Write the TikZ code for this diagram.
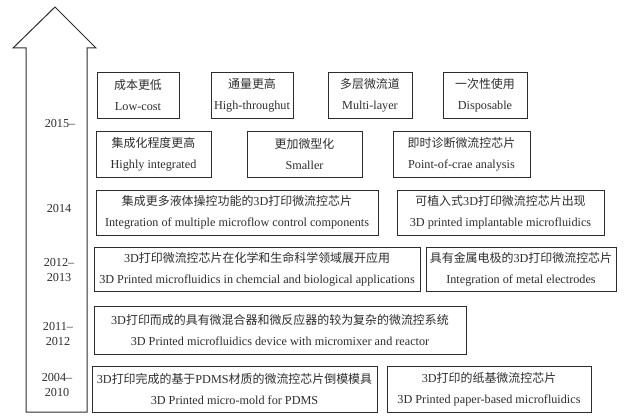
\documentclass[tikz,border=0pt]{standalone}
\usepackage{fontspec}
\setmainfont{Liberation Serif}
\newfontfamily\cjk{Noto Sans CJK SC}[Scale=0.98]
\newcommand{\zh}[1]{{\cjk #1}}
\usepackage{xcolor}
\usepackage{tikz}
\definecolor{inkgray}{RGB}{45,45,45}

\begin{document}
\begin{tikzpicture}[x=1pt, y=-1pt,
        stage/.style={draw=inkgray, line width=1pt, inner sep=0pt, align=center, text=inkgray, font=\fontsize{12.2}{21}\selectfont},
        year/.style={align=center, text=inkgray, font=\fontsize{12.2}{15}\selectfont}]
    \useasboundingbox (0,0) rectangle (627,420);
    % timeline arrow
    \draw[inkgray, line width=1pt, line join=miter] (26,412) -- (26,48) -- (13,48) -- (55,7) -- (96,48) -- (87,48) -- (87,412) -- cycle;

    % 2015-
    \node[year] (y2015) at (60,124) {2015–};
    \node[stage, minimum width=82pt, minimum height=45pt] (lowcost) at (138,95.5) {\zh{成本更低}\\Low-cost};
    \node[stage, minimum width=82pt, minimum height=45pt] (throughput) at (252,95.5) {\zh{通量更高}\\High-throughut};
    \node[stage, minimum width=84pt, minimum height=45pt] (multilayer) at (370,95.5) {\zh{多层微流道}\\Multi-layer};
    \node[stage, minimum width=84pt, minimum height=45pt] (disposable) at (485,95.5) {\zh{一次性使用}\\Disposable};
    \node[stage, minimum width=115pt, minimum height=46pt] (integrated) at (153.5,154) {\zh{集成化程度更高}\\Highly integrated};
    \node[stage, minimum width=115pt, minimum height=46pt] (smaller) at (304.5,154) {\zh{更加微型化}\\Smaller};
    \node[stage, minimum width=137pt, minimum height=46pt] (poc) at (461.5,154) {\zh{即时诊断微流控芯片}\\Point-of-crae analysis};

    % 2014
    \node[year] (y2014) at (59,209) {2014};
    \node[stage, minimum width=282pt, minimum height=45pt] (multiflow) at (237,212.5) {\zh{集成更多液体操控功能的}3D\zh{打印微流控芯片}\\Integration of multiple microflow control components};
    \node[stage, minimum width=207pt, minimum height=45pt] (implant) at (500.5,212.5) {\zh{可植入式}3D\zh{打印微流控芯片出现}\\3D printed implantable microfluidics};

    % 2012-2013
    \node[year] (y2012) at (59,270) {2012–\\2013};
    \node[stage, minimum width=326pt, minimum height=44pt] (chembio) at (257,269) {3D\zh{打印微流控芯片在化学和生命科学领域展开应用}\\3D Printed microfluidics in chemcial and biological applications};
    \node[stage, minimum width=190pt, minimum height=44pt] (electrode) at (521,269) {\zh{具有金属电极的}3D\zh{打印微流控芯片}\\Integration of metal electrodes};

    % 2011-2012
    \node[year] (y2011) at (58,334.5) {2011–\\2012};
    \node[stage, minimum width=372pt, minimum height=48pt] (mixer) at (280,330) {3D\zh{打印而成的具有微混合器和微反应器的较为复杂的微流控系统}\\3D Printed microfluidics device with micromixer and reactor};

    % 2004-2010
    \node[year] (y2004) at (57,385.5) {2004–\\2010};
    \node[stage, minimum width=285pt, minimum height=46pt] (mold) at (234.5,389) {3D\zh{打印完成的基于}PDMS\zh{材质的微流控芯片倒模模具}\\3D Printed micro-mold for PDMS};
    \node[stage, minimum width=204pt, minimum height=46pt] (paper) at (489,389) {3D\zh{打印的纸基微流控芯片}\\3D Printed paper-based microfluidics};
\end{tikzpicture}
\end{document}
